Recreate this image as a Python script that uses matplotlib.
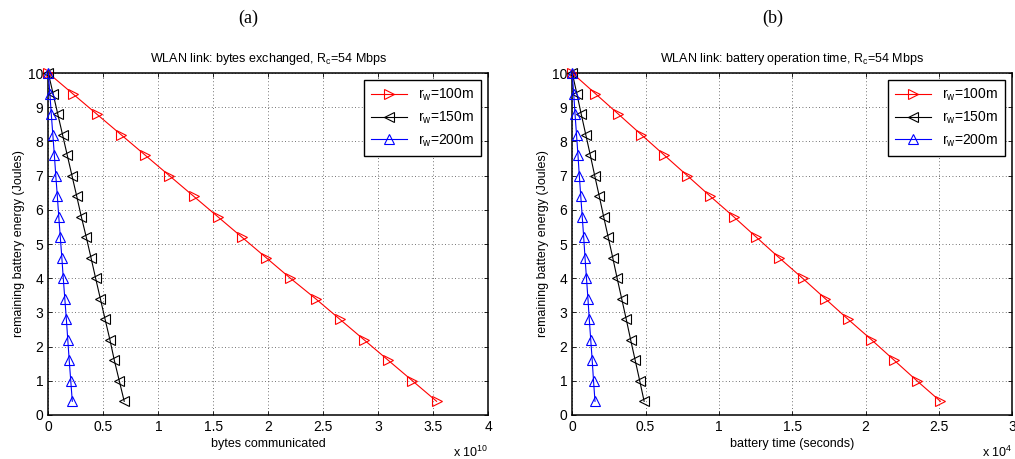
import matplotlib
matplotlib.use('Agg')
import matplotlib.pyplot as plt

plt.rcParams.update({
    'font.family': 'sans-serif', 'font.sans-serif': ['Liberation Sans', 'DejaVu Sans'],
    'mathtext.default': 'regular', 'font.size': 9,
})

# remaining battery energy (Joules)
energy = [10.0, 9.4, 8.8, 8.2, 7.6, 7.0, 6.4, 5.8, 5.2, 4.6, 4.0, 3.4, 2.8, 2.2, 1.6, 1.0, 0.4]

# (a) bytes communicated, x 1e10
bytes_100 = [0.0, 0.22, 0.44, 0.66, 0.88, 1.10, 1.32, 1.54, 1.76, 1.98, 2.20, 2.43, 2.65, 2.87, 3.09, 3.31, 3.53]
bytes_150 = [0.0, 0.043, 0.086, 0.129, 0.172, 0.215, 0.258, 0.30, 0.345, 0.388, 0.43, 0.473, 0.516, 0.56, 0.60, 0.645, 0.69]
bytes_200 = [0.0, 0.014, 0.027, 0.041, 0.055, 0.068, 0.082, 0.095, 0.109, 0.123, 0.136, 0.15, 0.164, 0.177, 0.19, 0.204, 0.218]

# (b) battery time, x 1e4 seconds
time_100 = [0.0, 0.157, 0.314, 0.47, 0.627, 0.784, 0.94, 1.10, 1.255, 1.41, 1.57, 1.725, 1.88, 2.04, 2.195, 2.35, 2.51]
time_150 = [0.0, 0.031, 0.061, 0.092, 0.123, 0.153, 0.184, 0.214, 0.245, 0.276, 0.306, 0.337, 0.368, 0.398, 0.429, 0.46, 0.49]
time_200 = [0.0, 0.0097, 0.019, 0.029, 0.039, 0.048, 0.058, 0.068, 0.078, 0.087, 0.097, 0.107, 0.116, 0.126, 0.136, 0.145, 0.155]

labels = ['r$_w$=100m', 'r$_w$=150m', 'r$_w$=200m']
colors = ['red', 'black', 'blue']
markers = ['>', '<', '^']

fig = plt.figure(figsize=(10.15, 4.59), dpi=100)
ax1 = fig.add_axes([0.0476, 0.0959, 0.4335, 0.745])
ax2 = fig.add_axes([0.5638, 0.0959, 0.4335, 0.745])

panels = [
    (ax1, [bytes_100, bytes_150, bytes_200], 4, 'bytes communicated', 'x 10$^{10}$',
     'WLAN link: bytes exchanged, R$_c$=54 Mbps', '(a)', 248),
    (ax2, [time_100, time_150, time_200], 3, 'battery time (seconds)', 'x 10$^{4}$',
     'WLAN link: battery operation time, R$_c$=54 Mbps', '(b)', 773),
]

for ax, series, xmax, xlab, expo, title, tag, tagx in panels:
    for xs, lab, c, m in zip(series, labels, colors, markers):
        ax.plot(xs, energy, color=c, marker=m, markersize=7, markerfacecolor='none',
                markeredgecolor=c, lw=0.8, mew=0.8, label=lab, clip_on=False, zorder=3)
    ax.set_xlim(0, xmax)
    ax.set_ylim(0, 10)
    ax.set_xticks([i * 0.5 for i in range(2 * xmax + 1)])
    ax.set_xticklabels(['0' if i == 0 else f'{i*0.5:g}' for i in range(2 * xmax + 1)])
    ax.set_yticks(range(11))
    ax.tick_params(direction='in', top=True, right=True, labelsize=10, length=3, width=0.6)
    ax.grid(True, color='#444444', ls=(0, (1, 3)), lw=0.6)
    for s in ax.spines.values():
        s.set_linewidth(1.1)
    ax.set_xlabel(xlab, fontsize=9, labelpad=3)
    ax.set_ylabel('remaining battery energy (Joules)', fontsize=9, labelpad=2)
    ax.set_title(title, fontsize=9, pad=8)
    ax.text(1.0, -0.11, expo, transform=ax.transAxes, ha='right', va='center', fontsize=9)
    leg = ax.legend(loc='upper right', fontsize=10, handlelength=2.6, borderpad=0.5,
                    labelspacing=0.45, fancybox=False, edgecolor='black', framealpha=1)
    leg.set_zorder(5)
    fig.text(tagx / 1015, 1 - 18 / 459, tag, ha='center', va='center',
             fontsize=13, family='Liberation Serif')

fig.savefig('out.png', dpi=100)
